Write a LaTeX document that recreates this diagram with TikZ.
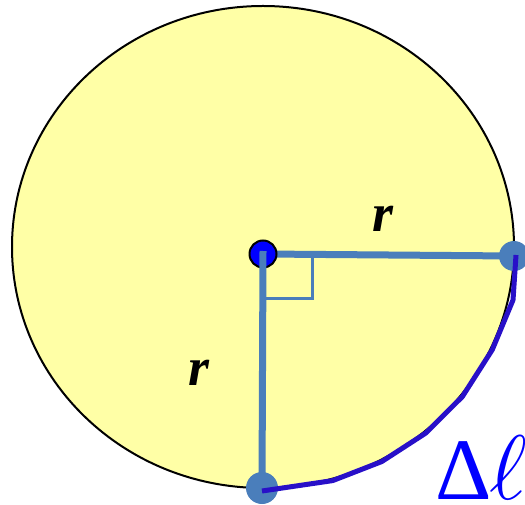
\RequirePackage{fix-cm}
\documentclass[tikz,border=0pt]{standalone}
\usepackage{fontspec}
\setmainfont{Liberation Serif}
\definecolor{diskyellow}{RGB}{255,255,166}
\definecolor{radblue}{RGB}{74,126,187}
\definecolor{arcblue}{RGB}{40,16,200}
\tikzset{
  radius line/.style={radblue, line width=3.5bp},
  angle mark/.style={radblue, line width=1.5bp},
  end dot/.style={fill=radblue},
  arc line/.style={arcblue, line width=2.5bp, line join=round},
  rlabel/.style={font=\fontsize{27}{27}\selectfont\bfseries\itshape}
}
\begin{document}
\begin{tikzpicture}[x=0.5bp, y=-0.5bp]
  \useasboundingbox (0,0) rectangle (525,505);
  \clip (0,0) rectangle (525,505);
  % disk
  \draw[fill=diskyellow, line width=1bp] (263,247) ellipse [x radius=251, y radius=241];
  % centre and end points
  \coordinate (O) at (263,254);
  \coordinate (A) at (514,256);
  \coordinate (B) at (262,488);
  % radii
  \draw[radius line] (O) -- (A);
  \fill[blue, draw=black, line width=1bp] (O) circle (13.5);
  \draw[radius line] (263,251) -- (B);
  \draw[angle mark] (260,298) -| (312,256);
  \fill[end dot] (A) circle (15);
  \fill[end dot] (B) circle (16);
  % arc length, drawn as short chords along the rim
  \draw[arc line, shift={(263,247)}] (-1,244) -- (74:253 and 243) -- (62:253 and 243)
    -- (50:253 and 243) -- (38:253 and 243) -- (25:253 and 243)
    -- (250,53) -- (253,8);
  % labels
  \node[rlabel] (rtop) at (383,219) {r};
  \node[rlabel] (rleft) at (199,373) {r};
  \node[anchor=base west, blue, font=\fontsize{44}{44}\selectfont, inner sep=0pt] (dl) at (435,499)
    {Δ\kern-1bp{\fontsize{46}{46}\selectfont$\ell$}};
\end{tikzpicture}
\end{document}
